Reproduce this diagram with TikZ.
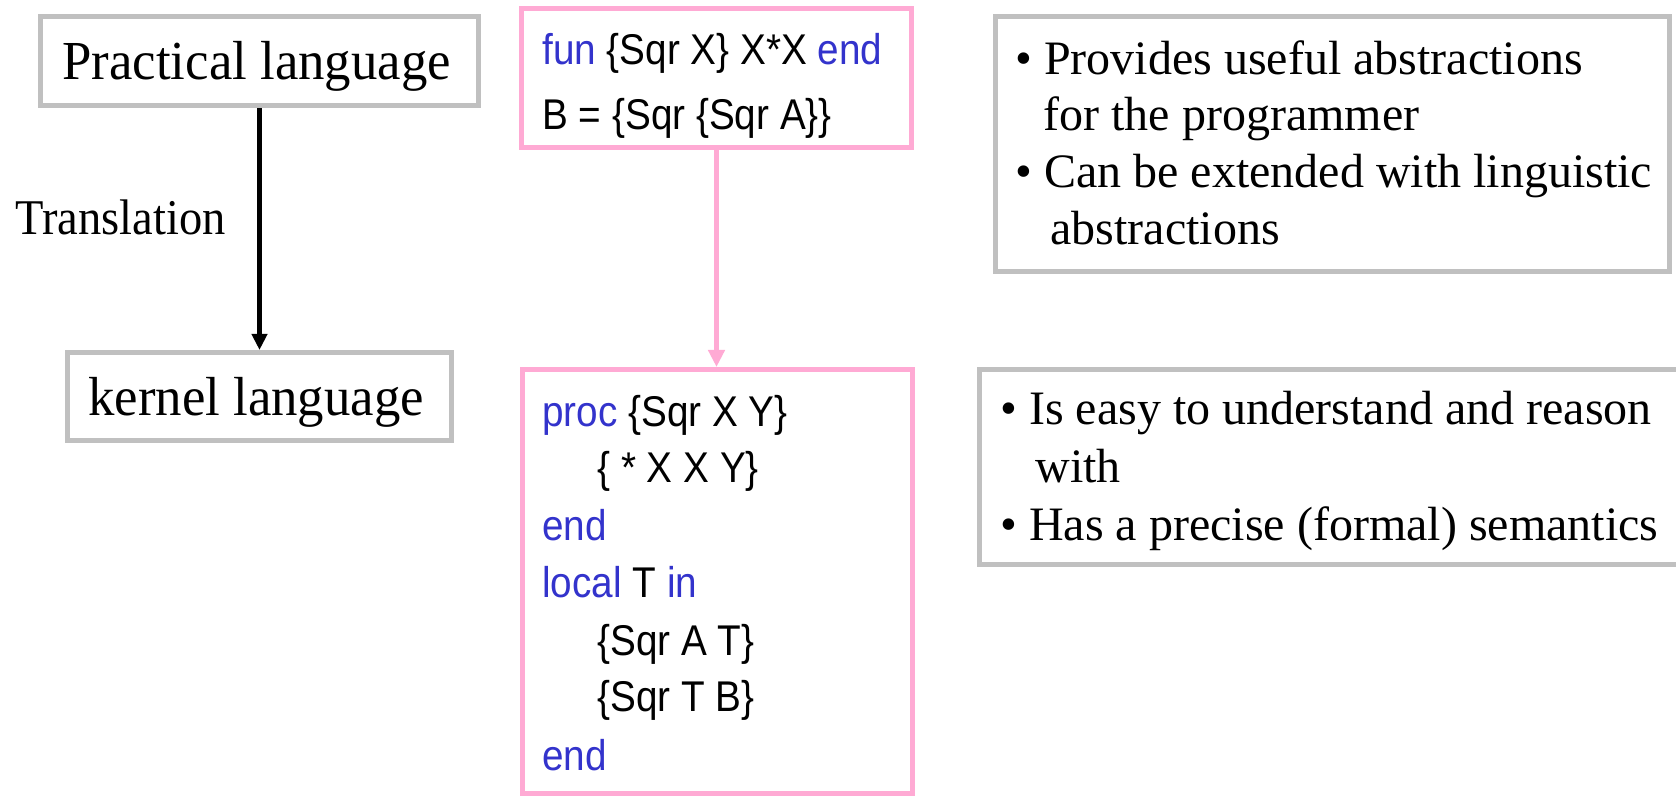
\documentclass[tikz,border=0pt]{standalone}
\usepackage{fontspec}
\setmainfont{Liberation Serif}
\newfontfamily\labelfont[FakeStretch=0.96]{Liberation Serif}
\newfontfamily\transfont[FakeStretch=0.93]{Liberation Serif}
\newfontfamily\codefont[FakeStretch=0.9]{Liberation Sans}
\usetikzlibrary{arrows.meta}
\definecolor{boxgray}{RGB}{192,192,192}
\definecolor{boxpink}{RGB}{255,170,212}
\definecolor{kwblue}{RGB}{51,51,204}
\newcommand{\kw}[1]{\textcolor{kwblue}{#1}}
\begin{document}
\begin{tikzpicture}[x=0.5pt,y=-0.5pt,
  graybox/.style={draw=boxgray, line width=2.5pt, fill=white, inner sep=0pt},
  pinkbox/.style={draw=boxpink, line width=2.5pt, fill=white, inner sep=0pt},
  boxlabel/.style={font=\labelfont\fontsize{27.5}{32}\selectfont, inner sep=0pt, anchor=base},
  codeline/.style={font=\codefont\fontsize{21.5}{26}\selectfont, inner sep=0pt, anchor=base west},
  infoline/.style={font=\fontsize{24}{28}\selectfont, inner sep=0pt, anchor=base west}
]
\useasboundingbox (0,0) rectangle (1676,796);
\clip (0,0) rectangle (1676,796);
\fill[white] (0,0) rectangle (1676,796);

% boxes
\node[graybox, minimum width=218.7pt, minimum height=44.5pt] (practical) at (259.5,61.3) {};
\node[graybox, minimum width=191.65pt, minimum height=44.15pt] (kernel) at (259.5,396.65) {};
\node[pinkbox, minimum width=195pt, minimum height=69.5pt] (fun) at (716.5,78) {};
\node[pinkbox, minimum width=195pt, minimum height=211.75pt] (proc) at (717.5,581.25) {};
\node[graybox, minimum width=337pt, minimum height=127.5pt] (info1) at (1332.5,144) {};
\node[graybox, minimum width=360.25pt, minimum height=97.5pt] (info2) at (1339.75,467) {};

% connectors
\draw[line width=2.5pt, -{Triangle[length=8pt,width=7.5pt]}] (practical.south) -- (kernel.north);
\draw[boxpink, line width=2.2pt, -{Triangle[length=8.5pt,width=8pt]}] (fun.south) -- (fun.south |- proc.north);

% left labels
\node[boxlabel] (tpract) at (256.7,80) {Practical language};
\node[boxlabel] (tkern) at (256.2,415.7) {kernel language};
\node[font=\transfont\fontsize{25}{29}\selectfont, inner sep=0pt, anchor=base west] (ttrans) at (15,235) {Translation};

% code, top box
\node[codeline] (c1) at (542,65) {\kw{fun} \{Sqr X\} X*X \kw{end}};
\node[codeline] (c2) at (542,130) {B = \{Sqr \{Sqr A\}\}};

% code, bottom box
\node[codeline] (k1) at (542,427) {\kw{proc} \{Sqr X Y\}};
\node[codeline] (k2) at (597,482) {\{ * X X Y\}};
\node[codeline] (k3) at (542,540) {\kw{end}};
\node[codeline] (k4) at (542,597) {\kw{local} T \kw{in}};
\node[codeline] (k5) at (597,655) {\{Sqr A T\}};
\node[codeline] (k6) at (597,711) {\{Sqr T B\}};
\node[codeline] (k7) at (542,770) {\kw{end}};

% info texts
\node[infoline] (i1) at (1015,75) {• Provides useful abstractions};
\node[infoline] (i2) at (1043,131) {for the programmer};
\node[infoline] (i3) at (1015,188) {• Can be extended with linguistic};
\node[infoline] (i4) at (1050,245) {abstractions};
\node[infoline] (j1) at (1000,425) {• Is easy to understand and reason};
\node[infoline] (j2) at (1035,482) {with};
\node[infoline] (j3) at (1000,540) {• Has a precise (formal) semantics};
\end{tikzpicture}
\end{document}
